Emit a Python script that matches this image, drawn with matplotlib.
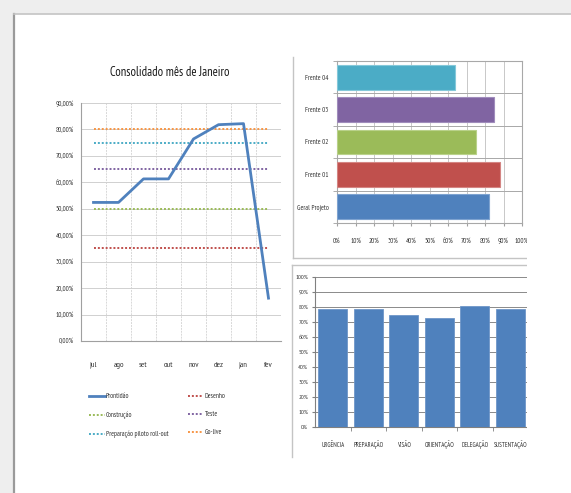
import numpy as np
import matplotlib.pyplot as plt
from matplotlib.patches import Rectangle
from matplotlib.lines import Line2D

# dados do gráfico de linhas
meses = ['jul', 'ago', 'set', 'out', 'nov', 'dez', 'jan', 'fev']
prontidao = [52.4, 52.4, 61.3, 61.3, 76.4, 81.8, 82.2, 16.2]
metas = {'Desenho': 35, 'Construção': 50, 'Teste': 65,
         'Preparação piloto roll-out': 75, 'Go-live': 80}

# dados das frentes
frentes = ['Geral Projeto', 'Frente 01', 'Frente 02', 'Frente 03', 'Frente 04']
frentes_val = [82, 88, 75, 85, 64]

# dados das dimensões
dimensoes = ['URGÊNCIA', 'PREPARAÇÃO', 'VISÃO', 'ORIENTAÇÃO', 'DELEGAÇÃO', 'SUSTENTAÇÃO']
dimensoes_val = [79, 79, 75, 73, 81, 79]

azul = '#4F81BD'
cores_metas = {'Desenho': '#C0504D', 'Construção': '#9BBB59', 'Teste': '#8064A2',
               'Preparação piloto roll-out': '#4BACC6', 'Go-live': '#F79646'}
cores_frentes = ['#4F81BD', '#C0504D', '#9BBB59', '#8064A2', '#4BACC6']

plt.rcParams['font.family'] = ['PT Sans Narrow', 'DejaVu Sans']

W, H = 571, 493
fig = plt.figure(figsize=(W / 100, H / 100), dpi=100)
fig.patch.set_facecolor('#eeeeee')


def px(x0, y0, x1, y1):
    """caixa em pixels (topo-esquerda) -> coords da figura"""
    return [x0 / W, 1 - y1 / H, (x1 - x0) / W, (y1 - y0) / H]


# painel branco
fig.patches.append(Rectangle((14 / W, 0), 1, 1 - 14 / H, transform=fig.transFigure,
                             facecolor='white', edgecolor='none', zorder=-1))
fig.lines.append(Line2D([14 / W, 14 / W], [0, 1 - 14 / H], transform=fig.transFigure,
                        color='#9a9a9a', lw=1.6))
fig.lines.append(Line2D([14 / W, 1], [1 - 14 / H, 1 - 14 / H], transform=fig.transFigure,
                        color='#c4c4c4', lw=1.2))

# ---- gráfico de linhas ----
ax = fig.add_axes(px(81, 103, 281, 341))
ax.patch.set_alpha(0)
x = np.arange(len(meses))
for nome, v in metas.items():
    ax.plot(x, [v] * len(x), ls=(0, (1, 1)), lw=1.4, color=cores_metas[nome], label=nome)
ax.plot(x, prontidao, color=azul, lw=2.0, label='Prontidão', zorder=5)
ax.set_xlim(-0.5, len(meses) - 0.5)
ax.set_ylim(0, 90)
ax.set_yticks(np.arange(0, 91, 10))
ax.set_yticklabels([f'{v:.2f}%'.replace('.', ',') for v in np.arange(0, 91, 10)])
ax.set_xticks(x)
ax.set_xticklabels(meses)
ax.set_xticks(np.arange(0.5, len(meses) - 1, 1), minor=True)
ax.grid(True, axis='y', color='#d0d0d0', lw=0.7)
ax.grid(True, axis='x', which='minor', color='#d8d8d8', lw=0.7, ls=(0, (2, 1)))
ax.tick_params(axis='y', labelsize=5, length=0, pad=5, colors='#333333')
ax.tick_params(axis='x', which='major', labelsize=6, length=0, pad=15, colors='#333333')
ax.tick_params(axis='x', which='minor', length=0)
for s in ['top', 'right']:
    ax.spines[s].set_visible(False)
for s in ['left', 'bottom']:
    ax.spines[s].set_color('#a0a0a0')
    ax.spines[s].set_linewidth(0.8)
fig.text(170 / W, 1 - 73 / H, 'Consolidado mês de Janeiro', ha='center', va='center',
         fontsize=9, color='#1a1a1a')

hs, ls = ax.get_legend_handles_labels()
ordem = ['Prontidão', 'Construção', 'Preparação piloto roll-out', 'Desenho', 'Teste', 'Go-live']
hmap = dict(zip(ls, hs))
ax.legend([hmap[k] for k in ordem], ordem, ncol=2, frameon=False, fontsize=5,
          loc='upper left', bbox_to_anchor=(0.01, -0.192), handlelength=2.2,
          handletextpad=0.2, labelspacing=1.62, columnspacing=2.8, labelcolor='#333333')

# ---- frentes (barras horizontais) ----
ax2 = fig.add_axes(px(337, 61, 522, 223))
y = np.arange(len(frentes))
ax2.barh(y, frentes_val, height=0.77, color=cores_frentes,
         edgecolor=['#7ea3d0', '#d48583', '#b9d18a', '#a08cbc', '#84c8d9'], lw=0.8, zorder=3)
ax2.set_xlim(0, 100)
ax2.set_ylim(-0.5, len(frentes) - 0.5)
ax2.set_xticks(np.arange(0, 101, 10))
ax2.set_xticklabels([f'{v}%' for v in range(0, 101, 10)])
ax2.set_yticks(y)
ax2.set_yticklabels(frentes)
ax2.set_yticks(np.arange(-0.5, len(frentes), 1), minor=True)
ax2.grid(True, axis='x', color='#c8c8c8', lw=0.7)
ax2.grid(True, axis='y', which='minor', color='#a8a8a8', lw=0.7)
ax2.tick_params(axis='x', labelsize=5, length=2, pad=9, colors='#333333', color='#a0a0a0')
ax2.tick_params(axis='y', labelsize=5, length=0, pad=6, colors='#333333')
ax2.tick_params(axis='y', which='minor', length=3, color='#a0a0a0')
for s in ax2.spines.values():
    s.set_color('#a8a8a8')
    s.set_linewidth(0.8)

# ---- dimensões (colunas) ----
ax3 = fig.add_axes(px(315, 277, 528, 427))
xc = np.arange(len(dimensoes))
ax3.bar(xc, dimensoes_val, width=0.82, color=azul, edgecolor='#6f96c8', lw=0.6, zorder=3)
ax3.set_xlim(-0.5, len(dimensoes) - 0.5)
ax3.set_ylim(0, 100)
ax3.set_yticks(np.arange(0, 101, 10))
ax3.set_yticklabels([f'{v}%' for v in range(0, 101, 10)])
ax3.set_xticks(xc)
ax3.set_xticklabels(dimensoes)
ax3.set_xticks(np.arange(0.5, len(dimensoes) - 1, 1), minor=True)
ax3.grid(True, axis='y', color='#8a8a8a', lw=0.7)
ax3.tick_params(axis='y', labelsize=4.6, length=2, pad=3, colors='#333333', color='#808080')
ax3.tick_params(axis='x', which='major', labelsize=4.7, length=0, pad=14.5, colors='#333333')
ax3.tick_params(axis='x', which='minor', length=3, color='#808080')
for lab in ax3.get_xticklabels():
    lab.set_va('baseline')
for s in ['top', 'right']:
    ax3.spines[s].set_visible(False)
for s in ['left', 'bottom']:
    ax3.spines[s].set_color('#808080')
    ax3.spines[s].set_linewidth(0.8)

# molduras dos gráficos da direita
moldura = '#c4c4c4'
for xs, ys in [([293, 293], [57, 258]), ([293, 527], [258, 258]),
               ([292, 292], [265, 457]), ([292, 527], [265, 265])]:
    fig.lines.append(Line2D([v / W for v in xs], [1 - v / H for v in ys],
                            transform=fig.transFigure, color=moldura, lw=1.0))

# recorte à direita (a captura corta os gráficos)
fig.patches.append(Rectangle((527 / W, 0), 40 / W, 1 - 40 / H, transform=fig.transFigure,
                             facecolor='white', edgecolor='none', zorder=10))

fig.savefig('out.png', dpi=100)
